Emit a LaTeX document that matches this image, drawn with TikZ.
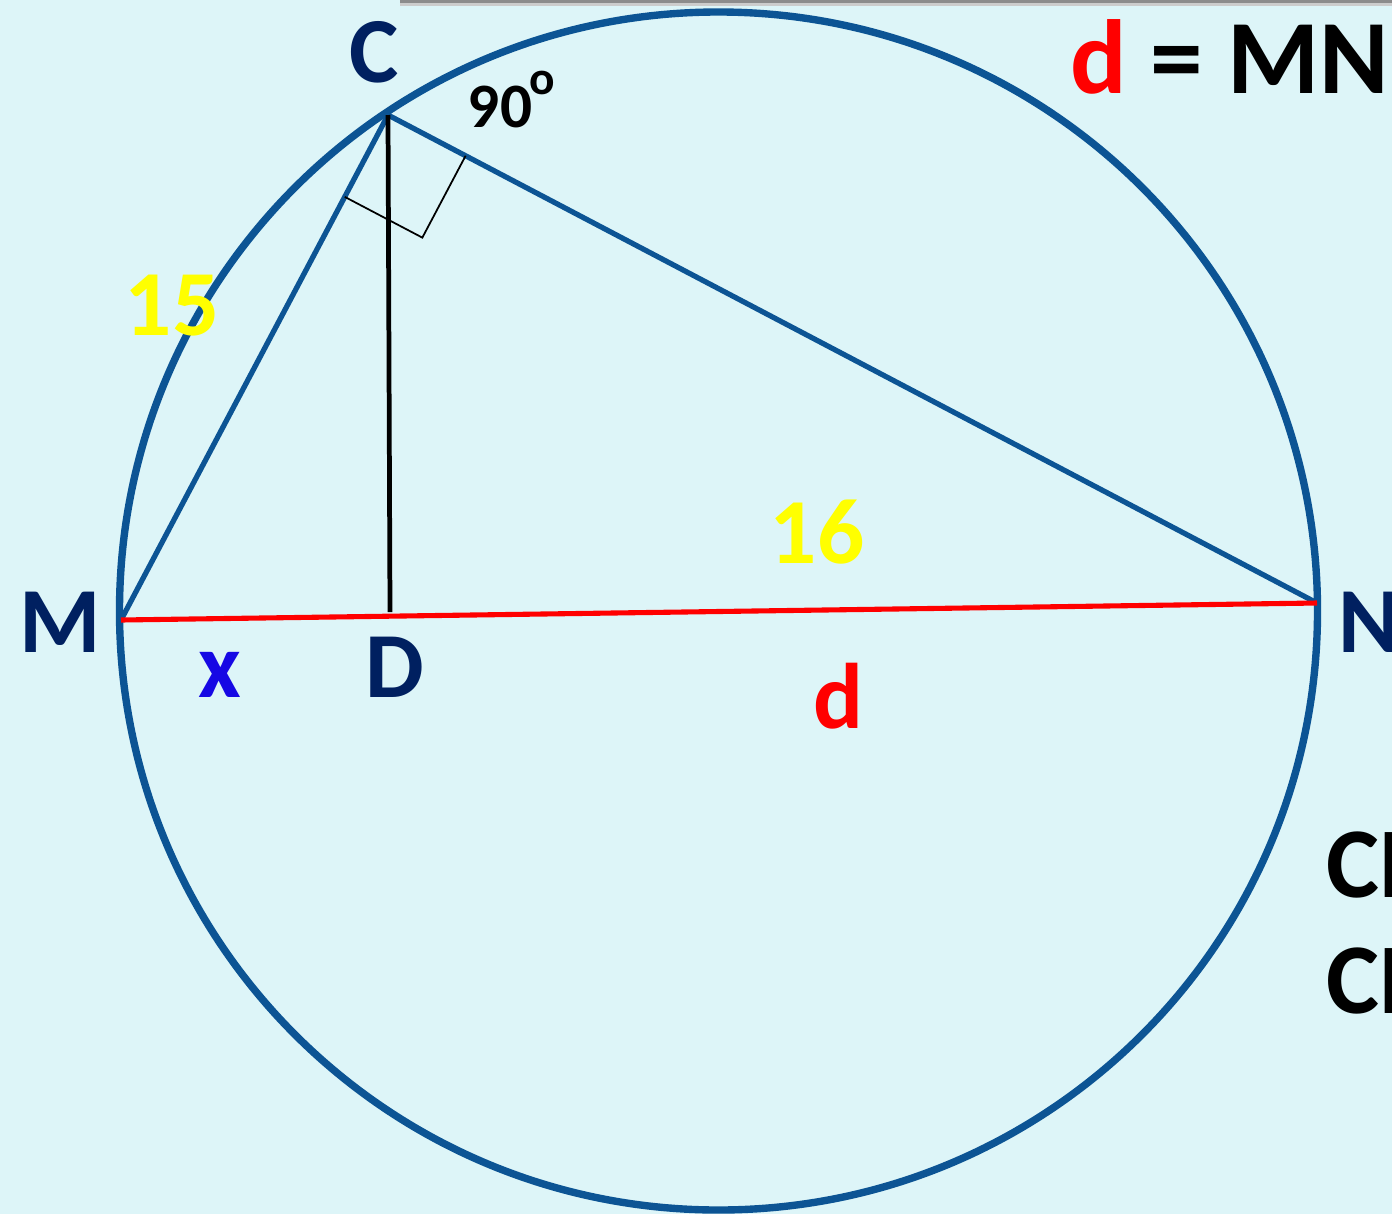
\documentclass[tikz,border=0pt]{standalone}
\usepackage{fontspec}
\setmainfont{Carlito}
\usetikzlibrary{calc}
\definecolor{bg}{RGB}{221,245,248}
\definecolor{ringblue}{RGB}{12,84,148}
\definecolor{navy}{RGB}{0,32,96}
\definecolor{xblue}{RGB}{22,8,228}
\definecolor{yel}{RGB}{255,255,0}
\tikzset{
  lbl/.style={inner sep=0pt, font=\bfseries\fontsize{53}{60}\selectfont},
  ptlbl/.style={lbl, text=navy},
  ring/.style={draw=ringblue, line width=4.2pt},
  side/.style={draw=ringblue, line width=3pt},
  altitude/.style={draw=black, line width=2.7pt},
  diam/.style={draw=red, line width=2.9pt},
  rmark/.style={draw=black, line width=1pt},
}
\begin{document}
\begin{tikzpicture}[x=0.02cm,y=-0.02cm]
\useasboundingbox (0,0) rectangle (1392,1214);
\clip (0,0) rectangle (1392,1214);
\fill[bg] (0,0) rectangle (1392,1214);
% shadow of a box edge at the top
\fill[black!45] (400,0) rectangle (1392,3);
\fill[black!20] (400,3) rectangle (1392,6);

\coordinate (O) at (718.5,611);
\coordinate (C) at (388,115);
\coordinate (M) at (121,620);
\coordinate (N) at (1317,603);
\coordinate (D) at (390,612);

\draw[ring] (O) circle [x radius=599, y radius=599];
\draw[side] (M) -- (C) -- (N);
\draw[altitude] (C) -- (D);
\draw[diam] (M) -- (N);

% right angle mark at C
\coordinate (P1) at ($(C)!52.7pt!(M)$);
\coordinate (P2) at ($(C)!49.9pt!(N)$);
\coordinate (P3) at ($(P1)+(P2)-(C)$);
\draw[rmark] (P1) -- (P3) -- (P2);

\node[ptlbl] (lC) at (374,52) {C};
\node[ptlbl] (lM) at (60,622) {M};
\node[ptlbl] (lD) at (395,667) {D};
\node[ptlbl, anchor=west] (lN) at (1338,622) {N};
\node[lbl, text=xblue] (lx) at (220,675) {x};
\node[lbl, text=red] (ld) at (838,696) {d};
\node[lbl, text=yel] (l15) at (172,306) {15};
\node[lbl, text=yel] (l16) at (817,532) {16};
\node[inner sep=0pt, font=\bfseries\fontsize{36}{40}\selectfont] (l90) at (500,107) {90};
\node[inner sep=0pt, font=\bfseries\fontsize{27}{30}\selectfont] (lo) at (542,83) {o};
\node[inner sep=0pt, anchor=base west, font=\bfseries\fontsize{60}{66}\selectfont] (ldmn) at (1070,93) {\textcolor{red}{d} = MN};
\node[lbl, anchor=base west, font=\bfseries\fontsize{57}{62}\selectfont] (cd1) at (1326,897) {CD};
\node[lbl, anchor=base west, font=\bfseries\fontsize{57}{62}\selectfont] (cd2) at (1326,1013) {CD};
\end{tikzpicture}
\end{document}
